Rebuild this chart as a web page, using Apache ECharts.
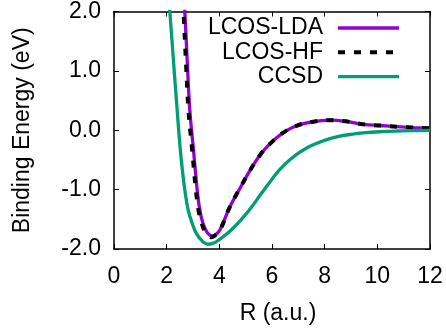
<!DOCTYPE html>
<html>
<head>
<meta charset="utf-8">
<script src="https://cdn.jsdelivr.net/npm/echarts@6/dist/echarts.min.js"></script>
<style>
  html, body { margin: 0; padding: 0; background: #fff; }
  #chart { width: 446px; height: 331px; }
</style>
</head>
<body>
<div id="chart"></div>
<script>
// axis ticks
const xTicks = [0, 2, 4, 6, 8, 10, 12];
const yTicks = [-2, -1, 0, 1, 2];

// LCOS-LDA curve
const ldaR = [2.64, 2.69, 2.79, 2.88, 3.02, 3.16, 3.26, 3.38, 3.51, 3.62, 3.72, 3.86, 4.02, 4.40, 4.78, 5.16, 5.54, 5.92, 6.43, 6.93, 7.50, 8.20, 8.80, 9.47, 10.10, 10.74, 11.40, 12.00];
const ldaE = [2.45, 2.00, 1.08, 0.33, -0.34, -1.01, -1.35, -1.57, -1.70, -1.76, -1.78, -1.76, -1.68, -1.29, -0.98, -0.68, -0.42, -0.23, -0.04, 0.075, 0.14, 0.17, 0.15, 0.10, 0.08, 0.06, 0.045, 0.035];

// LCOS-HF curve
const hfR = [2.59, 2.64, 2.74, 2.83, 2.97, 3.11, 3.21, 3.33, 3.46, 3.57, 3.68, 3.84, 4.02, 4.40, 4.78, 5.16, 5.54, 5.92, 6.43, 6.93, 7.50, 8.20, 8.80, 9.47, 10.10, 10.74, 11.40, 12.00];
const hfE = [2.45, 2.00, 1.08, 0.33, -0.34, -1.01, -1.35, -1.57, -1.71, -1.78, -1.80, -1.77, -1.69, -1.29, -0.98, -0.68, -0.42, -0.23, -0.04, 0.075, 0.14, 0.17, 0.15, 0.10, 0.08, 0.06, 0.045, 0.035];

// CCSD curve
const ccsdR = [2.06, 2.12, 2.26, 2.40, 2.52, 2.60, 2.69, 2.82, 2.97, 3.13, 3.38, 3.57, 3.83, 4.03, 4.40, 4.78, 5.16, 5.54, 5.92, 6.30, 6.70, 7.06, 7.44, 7.82, 8.20, 8.58, 9.00, 9.47, 10.10, 10.74, 11.40, 12.00];
const ccsdE = [2.35, 2.00, 1.16, 0.33, -0.34, -0.68, -1.01, -1.35, -1.57, -1.74, -1.88, -1.92, -1.89, -1.83, -1.70, -1.53, -1.33, -1.10, -0.87, -0.66, -0.49, -0.37, -0.27, -0.20, -0.14, -0.10, -0.07, -0.045, -0.025, -0.013, -0.006, -0.002];

const pairs = (r, e) => r.map((v, i) => [v, e[i]]);

const font = 'Liberation Sans';
const axisLine = { show: true, onZero: false, lineStyle: { color: '#000', width: 1.5 } };
const axisTick = { show: true, inside: true, length: 5, lineStyle: { color: '#000', width: 1 } };
const labelStyle = { color: '#000', fontSize: 23, fontFamily: font };

const chart = echarts.init(document.getElementById('chart'));

const option = {
    animation: false,
    backgroundColor: '#fff',
    grid: { left: 114, right: 16, top: 10, bottom: 82 },
    legend: {
        orient: 'vertical',
        align: 'right',
        right: 45,
        top: 16,
        padding: 0,
        itemGap: 0.3,
        itemWidth: 61,
        itemHeight: 12,
        itemStyle: { opacity: 0 },
        lineStyle: { width: 'inherit' },
        textStyle: { color: '#000', fontSize: 23, fontFamily: font, lineHeight: 24, padding: [0, 10, 0, 0] },
        data: ['LCOS-LDA', 'LCOS-HF', 'CCSD']
    },
    xAxis: [
        {
            type: 'value',
            min: xTicks[0],
            max: xTicks[xTicks.length - 1],
            interval: xTicks[1] - xTicks[0],
            name: 'R (a.u.)',
            nameLocation: 'middle',
            nameGap: 53,
            nameTextStyle: { ...labelStyle, padding: [0, 0, 0, 12] },
            axisLine: axisLine,
            axisTick: axisTick,
            axisLabel: { ...labelStyle, margin: 16 },
            splitLine: { show: false }
        },
        {
            type: 'value',
            position: 'top',
            min: xTicks[0],
            max: xTicks[xTicks.length - 1],
            interval: xTicks[1] - xTicks[0],
            axisLine: axisLine,
            axisTick: axisTick,
            axisLabel: { show: false },
            splitLine: { show: false }
        }
    ],
    yAxis: [
        {
            type: 'value',
            min: yTicks[0],
            max: yTicks[yTicks.length - 1],
            interval: yTicks[1] - yTicks[0],
            name: 'Binding Energy (eV)',
            nameLocation: 'middle',
            nameGap: 80,
            nameTextStyle: labelStyle,
            axisLine: axisLine,
            axisTick: axisTick,
            axisLabel: { ...labelStyle, margin: 13, formatter: v => v.toFixed(1) },
            splitLine: { show: false }
        },
        {
            type: 'value',
            position: 'right',
            min: yTicks[0],
            max: yTicks[yTicks.length - 1],
            interval: yTicks[1] - yTicks[0],
            axisLine: axisLine,
            axisTick: axisTick,
            axisLabel: { show: false },
            splitLine: { show: false }
        }
    ],
    series: [
        {
            name: 'LCOS-LDA',
            type: 'line',
            data: pairs(ldaR, ldaE),
            smooth: 0.4,
            symbol: 'none',
            clip: true,
            lineStyle: { color: '#9400d3', width: 3.3 },
            itemStyle: { color: '#9400d3' }
        },
        {
            name: 'LCOS-HF',
            type: 'line',
            data: pairs(hfR, hfE),
            smooth: 0.4,
            symbol: 'none',
            clip: true,
            lineStyle: { color: '#000', width: 4, type: [7, 9] },
            itemStyle: { color: '#000' }
        },
        {
            name: 'CCSD',
            type: 'line',
            data: pairs(ccsdR, ccsdE),
            smooth: 0.4,
            symbol: 'none',
            clip: true,
            lineStyle: { color: '#009e73', width: 3.3 },
            itemStyle: { color: '#009e73' }
        }
    ]
};

chart.setOption(option);
</script>
</body>
</html>
